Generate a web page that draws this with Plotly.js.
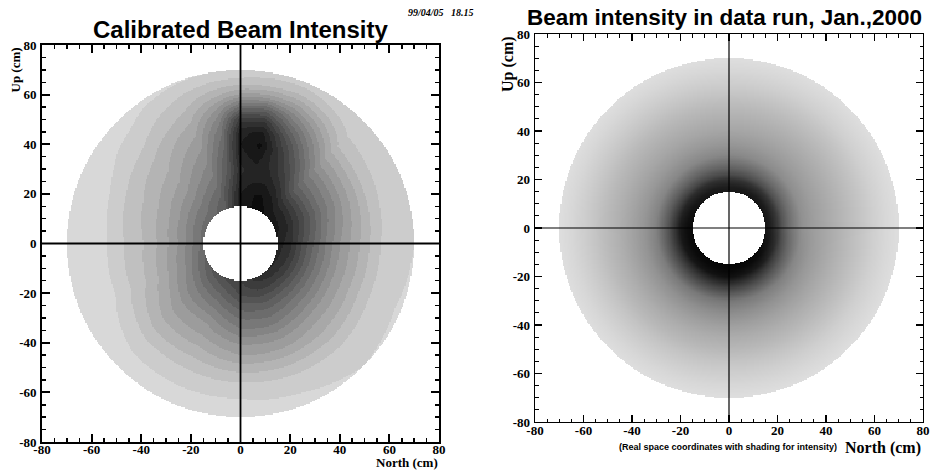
<!DOCTYPE html>
<html><head><meta charset="utf-8">
<script src="https://cdn.plot.ly/plotly-3.0.1.min.js"></script>
<style>html,body{margin:0;padding:0;background:#fff}#plot{width:936px;height:470px}</style>
</head><body><div id="plot"></div>
<script>
// ---- data ----
// Left panel: gray level (0=black,255=white) at radii (cm) along directions (deg, from +North axis, counter-clockwise)
const leftRadii  = [15, 20, 25, 30, 35, 40, 45, 50, 55, 60, 65, 70];
const leftAngles = [0, 22.5, 45, 56.25, 67.5, 78.75, 90, 100, 112.5, 135, 157.5, 180, 202.5, 225, 247.5, 270, 292.5, 315, 337.5];
const leftGray = [
  [35, 50, 80,105,130,150,165,180,195,205,208,210],   // 0
  [25, 40, 65, 90,115,135,155,172,190,200,208,210],   // 22.5
  [20, 35, 60, 90,112,130,150,168,185,196,205,210],   // 45
  [15, 22, 38, 58, 75, 92,112,132,155,178,196,208],   // 56.25
  [15, 15, 28, 40, 48, 55, 72,100,130,160,188,205],   // 67.5
  [20, 20, 30, 35, 25, 15, 25, 55,100,155,190,205],   // 78.75
  [30, 30, 40, 45, 35, 30, 35, 60,110,160,192,210],   // 90
  [55, 65, 78, 88, 95,105,115,130,150,175,195,210],   // 100
  [90,100,115,128,138,148,158,168,180,190,200,212],   // 112.5
  [105,118,135,150,162,172,180,188,198,205,212,216],  // 135
  [108,125,145,160,172,182,190,198,208,214,216,217],  // 157.5
  [110,130,150,165,178,188,195,203,212,217,217,217],  // 180
  [100,122,142,158,172,184,193,202,211,216,217,217],  // 202.5
  [85,105,125,140,155,165,177,188,200,208,214,216],   // 225
  [75, 95,115,133,150,162,175,187,198,207,213,215],   // 247.5
  [65, 75, 95,112,128,148,162,180,195,208,212,214],   // 270
  [50, 65, 88,108,125,145,160,177,193,205,210,212],   // 292.5
  [40, 62, 88,112,132,150,165,178,192,203,208,210],   // 315
  [38, 56, 84,110,132,152,167,182,196,205,209,211]    // 337.5
];
// Right panel
const rightRadii  = [15, 17, 20, 22, 25, 30, 35, 40, 45, 50, 55, 60, 65, 70];
const rightAngles = [0, 45, 90, 135, 180, 225, 270, 315];
const rightGray = [
  [22, 30, 58, 85,112,145,158,168,178,188,198,208,216,222],  // 0
  [20, 28, 52, 78,105,140,155,166,176,186,196,207,215,222],  // 45
  [25, 30, 50, 75,100,135,152,165,175,185,196,206,215,222],  // 90
  [20, 25, 45, 70, 98,135,152,165,175,185,196,206,215,222],  // 135
  [10, 12, 25, 50, 85,130,150,163,175,185,196,206,215,222],  // 180
  [ 8, 10, 22, 45, 75,122,145,160,173,184,196,206,215,222],  // 225
  [ 5,  6, 15, 35, 68,118,140,158,172,183,196,206,215,222],  // 270
  [ 8, 12, 30, 55, 85,128,148,162,174,185,196,207,215,222]   // 315
];
const holeRadius = 15, outerRadius = 70;
const tickVals = [-80, -60, -40, -20, 0, 20, 40, 60, 80];
const tickText = ['-80','-60','-40','-20','0','20','40','60','80'];

// ---- build grids from the tables ----
function interp1(xs, ys, x) {
  if (x <= xs[0]) return ys[0];
  for (let i = 1; i < xs.length; i++) {
    if (x <= xs[i]) { const t = (x - xs[i-1]) / (xs[i] - xs[i-1]); return ys[i-1] + t * (ys[i] - ys[i-1]); }
  }
  return ys[ys.length - 1];
}
function buildGrid(angles, radii, table, step, quant) {
  const cs = [];
  const n = Math.round(160 / step);
  for (let k = 0; k < n; k++) cs.push(-80 + step * (k + 0.5));
  const z = [];
  for (const y of cs) {
    const row = [];
    for (const x of cs) {
      const r = Math.hypot(x, y);
      if (r < holeRadius || r > outerRadius) { row.push(null); continue; }
      let th = Math.atan2(y, x) * 180 / Math.PI; if (th < 0) th += 360;
      const na = angles.length;
      let i = na - 1;
      for (let k = 0; k < na; k++) if (angles[k] <= th) i = k;
      const j = (i + 1) % na;
      let a0 = angles[i], a1 = angles[j]; if (a1 <= a0) a1 += 360;
      let tt = th; if (tt < a0) tt += 360;
      const t = (tt - a0) / (a1 - a0);
      const g0 = interp1(radii, table[i], r), g1 = interp1(radii, table[j], r);
      let g = g0 + t * (g1 - g0);
      if (quant) g = Math.round(g / quant) * quant;
      row.push(g);
    }
    z.push(row);
  }
  return {x: cs, y: cs, z: z};
}
const L = buildGrid(leftAngles, leftRadii, leftGray, 0.5, 12);
const R = buildGrid(rightAngles, rightRadii, rightGray, 0.5, 0);

const grayScale = [[0, '#000000'], [1, '#ffffff']];
const traces = [
  {type: 'heatmap', x: L.x, y: L.y, z: L.z, xaxis: 'x', yaxis: 'y', colorscale: grayScale, zmin: 0, zmax: 255, showscale: false, hoverinfo: 'skip'},
  {type: 'heatmap', x: R.x, y: R.y, z: R.z, xaxis: 'x2', yaxis: 'y2', colorscale: grayScale, zmin: 0, zmax: 255, showscale: false, hoverinfo: 'skip'}
];

const SERIF = 'Liberation Serif, serif';
function serifBold(sz) { return {family: SERIF, size: sz, color: '#000', weight: 'bold'}; }
function axis(domain, anchor, lw, tl, standoff) {
  return {
    domain: domain, anchor: anchor, range: [-80, 80], tickmode: 'array', tickvals: tickVals,
    ticktext: tickText.map(t => '<b>' + t + '</b>'),
    ticks: 'inside', ticklen: tl, tickwidth: lw, tickcolor: '#000', mirror: 'ticks',
    showline: true, linecolor: '#000', linewidth: lw, showgrid: false, zeroline: false,
    tickfont: serifBold(13), layer: 'above traces', ticklabelstandoff: standoff,
    minor: {dtick: 5, tick0: 0, ticks: 'inside', ticklen: tl / 2, tickwidth: lw * 0.8, tickcolor: '#000', showgrid: false}
  };
}
const W = 936, H = 470;
const lx = [42 / W, 439 / W], ly = [1 - 442 / H, 1 - 45 / H];
const rx = [535 / W, 923 / W], ry = [1 - 422 / H, 1 - 34 / H];

const layout = {
  width: W, height: H, margin: {l: 0, r: 0, t: 0, b: 0},
  font: {family: SERIF, color: '#000'},
  paper_bgcolor: '#fff', plot_bgcolor: '#fff', showlegend: false,
  xaxis: axis(lx, 'y', 1.8, 8, -5),
  yaxis: axis(ly, 'x', 1.8, 8, 1),
  xaxis2: axis(rx, 'y2', 1.4, 7, -4),
  yaxis2: axis(ry, 'x2', 1.4, 7, 1),
  shapes: [
    {type: 'line', xref: 'x', yref: 'y', x0: -80, x1: 80, y0: 0, y1: 0, line: {color: '#000', width: 1.8}, layer: 'above'},
    {type: 'line', xref: 'x', yref: 'y', x0: 0, x1: 0, y0: -80, y1: 80, line: {color: '#000', width: 1.8}, layer: 'above'},
    {type: 'line', xref: 'x2', yref: 'y2', x0: -80, x1: 80, y0: 0, y1: 0, line: {color: '#000', width: 1.2}, layer: 'above'},
    {type: 'line', xref: 'x2', yref: 'y2', x0: 0, x1: 0, y0: -80, y1: 80, line: {color: '#000', width: 1.2}, layer: 'above'}
  ],
  annotations: [
    {text: '<b>Calibrated Beam Intensity</b>', xref: 'paper', yref: 'paper', x: 241 / W, y: 1 - 29 / H, xanchor: 'center', yanchor: 'middle', showarrow: false,
     font: {family: 'Liberation Sans, sans-serif', size: 24, color: '#000', weight: 'bold'}},
    {text: '<b>Beam intensity in data run, Jan.,2000</b>', xref: 'paper', yref: 'paper', x: 724 / W, y: 1 - 18 / H, xanchor: 'center', yanchor: 'middle', showarrow: false,
     font: {family: 'Liberation Sans, sans-serif', size: 22.5, color: '#000', weight: 'bold'}},
    {text: '<b><i>99/04/05   18.15</i></b>', xref: 'paper', yref: 'paper', x: 476 / W, y: 1 - 12 / H, xanchor: 'right', yanchor: 'middle', showarrow: false,
     font: serifBold(10)},
    {text: '<b>North (cm)</b>', xref: 'paper', yref: 'paper', x: 439 / W, y: 1 - 462 / H, xanchor: 'right', yanchor: 'middle', showarrow: false,
     font: serifBold(13), borderpad: 0},
    {text: '<b>Up (cm)</b>', xref: 'paper', yref: 'paper', x: 15 / W, y: 1 - 45 / H, xanchor: 'center', yanchor: 'top', textangle: -90, showarrow: false,
     font: serifBold(13)},
    {text: '<b>North (cm)</b>', xref: 'paper', yref: 'paper', x: 923 / W, y: 1 - 448 / H, xanchor: 'right', yanchor: 'middle', showarrow: false,
     font: serifBold(16)},
    {text: '<b>Up (cm)</b>', xref: 'paper', yref: 'paper', x: 508 / W, y: 1 - 34 / H, xanchor: 'center', yanchor: 'top', textangle: -90, showarrow: false,
     font: serifBold(16)},
    {text: '<b>(Real space coordinates with shading for intensity)</b>', xref: 'paper', yref: 'paper', x: 728 / W, y: 1 - 447 / H, xanchor: 'center', yanchor: 'middle', showarrow: false,
     font: {family: 'Liberation Sans, sans-serif', size: 9, color: '#000', weight: 'bold'}}
  ]
};
Plotly.newPlot('plot', traces, layout, {displayModeBar: false, staticPlot: true});
</script></body></html>
